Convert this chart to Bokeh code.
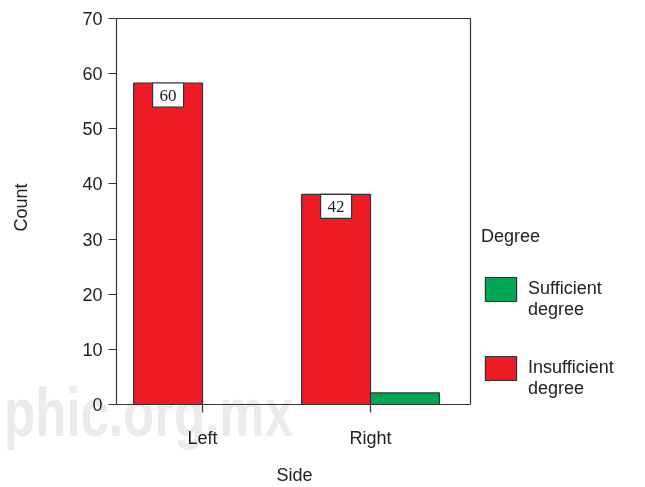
from bokeh.plotting import figure
from bokeh.models import (ColumnDataSource, Legend, LegendItem, Label,
                          FixedTicker, Range1d, Div)
from bokeh.layouts import column
from bokeh.embed import file_html
from bokeh.resources import INLINE

# ---- data ----
sides = ["Left", "Right"]
side_pos = [1, 2]
insufficient = [58.3, 38.1]
sufficient = [0, 2.1]
bar_labels = ["60", "42"]
y_ticks = [0, 10, 20, 30, 40, 50, 60, 70]
x_title = "Side"
y_title = "Count"
legend_title = "Degree"
legend_labels = ["Sufficient\ndegree", "Insufficient\ndegree"]
watermark = "phic.org.mx"
RED = "#ED1C24"
GREEN = "#00A651"
EDGE = "#333333"
FONT = "Liberation Sans"

# axes box (data units) and the extra room on the right for the legend
X0, X1 = 0.488, 2.595
Y0, Y1 = 0, 70
W = 0.41

p = figure(width=637, height=487, output_backend="svg", toolbar_location=None,
           x_range=Range1d(X0, 3.589), y_range=Range1d(Y0, 71.45),
           min_border_left=116, min_border_top=10, min_border_right=0,
           min_border_bottom=75)
p.outline_line_color = None

src = ColumnDataSource(dict(
    xr=[x - W / 2 for x in side_pos], xg=[x + W / 2 for x in side_pos],
    ins=insufficient, suf=sufficient, lab=bar_labels))

r_red = p.vbar(x="xr", top="ins", width=W, source=src, fill_color=RED,
               line_color=EDGE, line_width=1.2)
r_green = p.vbar(x="xg", top="suf", width=W, source=src, fill_color=GREEN,
                 line_color=EDGE, line_width=1.2)

# top and right sides of the axes box
p.line(x=[X0, X1, X1], y=[Y1, Y1, Y0], line_color=EDGE, line_width=1.2)

for xx, yy, tt in zip(src.data["xr"], insufficient, bar_labels):
    p.add_layout(Label(x=xx, y=yy, text=tt, text_align="center",
                       text_baseline="top", y_offset=0,
                       text_font="Liberation Serif", text_font_size="17px",
                       text_color="#222222", background_fill_color="white",
                       border_line_color=EDGE, border_line_width=1.2,
                       padding=dict(left=7, right=7, top=7, bottom=6)))

p.xgrid.visible = False
p.ygrid.visible = False

p.xaxis.ticker = FixedTicker(ticks=side_pos)
p.xaxis.major_label_overrides = {x: s for x, s in zip(side_pos, sides)}
p.yaxis.ticker = FixedTicker(ticks=y_ticks)
p.xaxis.bounds = (X0, X1)
p.yaxis.bounds = (Y0, Y1)
# the frame runs on under the legend, so pad the x title to centre it under the box
p.xaxis.axis_label = x_title + "\u00a0" * 33
p.yaxis.axis_label = y_title
for ax in (p.xaxis, p.yaxis):
    ax.axis_line_color = EDGE
    ax.axis_line_width = 1.2
    ax.major_tick_line_color = EDGE
    ax.major_tick_line_width = 1.2
    ax.major_tick_out = 8
    ax.major_tick_in = 0
    ax.minor_tick_line_color = None
    ax.major_label_text_font = FONT
    ax.major_label_text_font_size = "18px"
    ax.major_label_text_color = "#222222"
    ax.axis_label_text_font = FONT
    ax.axis_label_text_font_size = "18px"
    ax.axis_label_text_font_style = "normal"
    ax.axis_label_text_color = "#222222"
p.xaxis.major_label_standoff = 15
p.xaxis.axis_label_standoff = 14
p.yaxis.major_label_standoff = 6
p.yaxis.axis_label_standoff = 48

# a leading empty line drops each two-line label so it starts level with its swatch
legend = Legend(items=[LegendItem(label="\n" + legend_labels[0], renderers=[r_green]),
                       LegendItem(label="\n" + legend_labels[1], renderers=[r_red])],
                title=legend_title, location=(365, 5), border_line_color=None,
                background_fill_alpha=0, margin=0, padding=0,
                glyph_width=39, glyph_height=30, label_standoff=8,
                spacing=16, title_standoff=10,
                label_text_font=FONT, label_text_font_size="18px",
                label_text_color="#222222",
                title_text_font=FONT, title_text_font_size="18px",
                title_text_font_style="normal", title_text_color="#222222")
p.add_layout(legend, "center")

# faint watermark of the source image, blended so that it sits "under" the marks
wm = Div(text=watermark, width=420, height=80,
         styles={"position": "absolute", "left": "-1px", "top": "373px",
                 "font-family": "'Liberation Sans', sans-serif",
                 "font-weight": "bold", "font-size": "68px",
                 "line-height": "68px", "color": "#ebebeb",
                 "transform": "scaleX(0.75)", "transform-origin": "left top",
                 "mix-blend-mode": "darken", "pointer-events": "none",
                 "white-space": "nowrap", "z-index": "5"})

page = column(p, wm)
open("out.html", "w").write(file_html(page, INLINE))
